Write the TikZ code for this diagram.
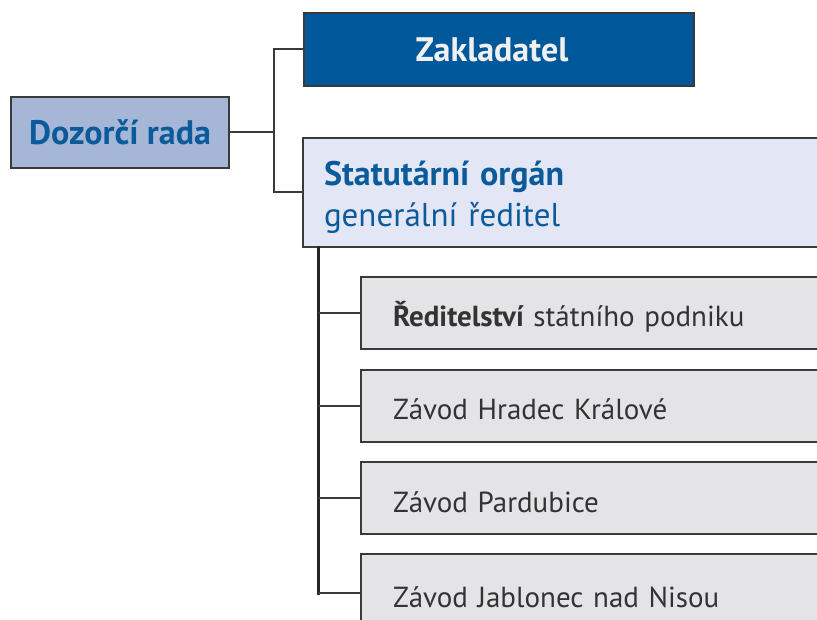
\documentclass[tikz,border=0pt]{standalone}
\usepackage{fontspec}
\setmainfont{PT Sans}
\definecolor{dkblue}{HTML}{00589B}
\definecolor{midblue}{HTML}{A5B6D7}
\definecolor{ltblue}{HTML}{E3E6F4}
\definecolor{txtblue}{HTML}{0B5A9A}
\definecolor{boxgray}{HTML}{E4E4E6}
\definecolor{txtgray}{HTML}{333333}
\definecolor{edge}{HTML}{3A3A3A}
\begin{document}
\begin{tikzpicture}[x=1pt,y=1pt,
  box/.style={draw=edge,line width=2pt,anchor=north west,inner sep=0pt},
  graybox/.style={box,fill=boxgray,text=txtgray,minimum width=480,minimum height=72,align=left,text width=448,inner xsep=32pt,text height=32pt,text depth=4pt,font=\fontsize{29}{34}\selectfont},
  conn/.style={draw=edge,line width=2pt},
  spine/.style={draw=black!85,line width=3pt}]
\clip (0,0) rectangle (817,-620);
\fill[white] (0,0) rectangle (817,-620);
\node[box,fill=midblue,text=txtblue,minimum width=218,minimum height=71,font=\fontsize{34}{40}\selectfont\bfseries] (dozor) at (10,-96) {Dozorčí rada};
\node[box,fill=dkblue,text=white!94!black,minimum width=390,minimum height=73,font=\fontsize{34}{40}\selectfont\bfseries] (zak) at (303,-12) {Zakladatel\hspace*{14pt}};
\node[box,fill=ltblue,text=txtblue,minimum width=530,minimum height=109,align=left,text width=488,inner xsep=21pt,font=\fontsize{33}{41}\selectfont] (stat) at (302,-137) {\rule{0pt}{34pt}{\fontsize{34}{41}\selectfont\bfseries Statutární orgán}\\generální ředitel};
\node[graybox] (b1) at (360,-276) {{\bfseries Ředitelství} státního podniku};
\node[graybox] (b2) at (360,-369) {Závod Hradec Králové};
\node[graybox] (b3) at (360,-461) {Závod Pardubice};
\node[graybox,minimum height=78] (b4) at (360,-553) {Závod Jablonec nad Nisou};
\coordinate (j) at (dozor.east -| 274,0);
\draw[conn] (dozor.east) -- (j);
\draw[conn] (zak.west) -| (j) |- (stat.west);
\coordinate (s0) at (318,-246);
\coordinate (s1) at (318,-595);
\draw[spine] (s0) -- (s1);
\draw[conn] (b1.west -| s0) -- (b1.west);
\draw[conn] (b2.west -| s0) -- (b2.west);
\draw[conn] (b3.west -| s0) -- (b3.west);
\draw[conn] (b4.west -| s0) -- (b4.west);
\end{tikzpicture}
\end{document}
